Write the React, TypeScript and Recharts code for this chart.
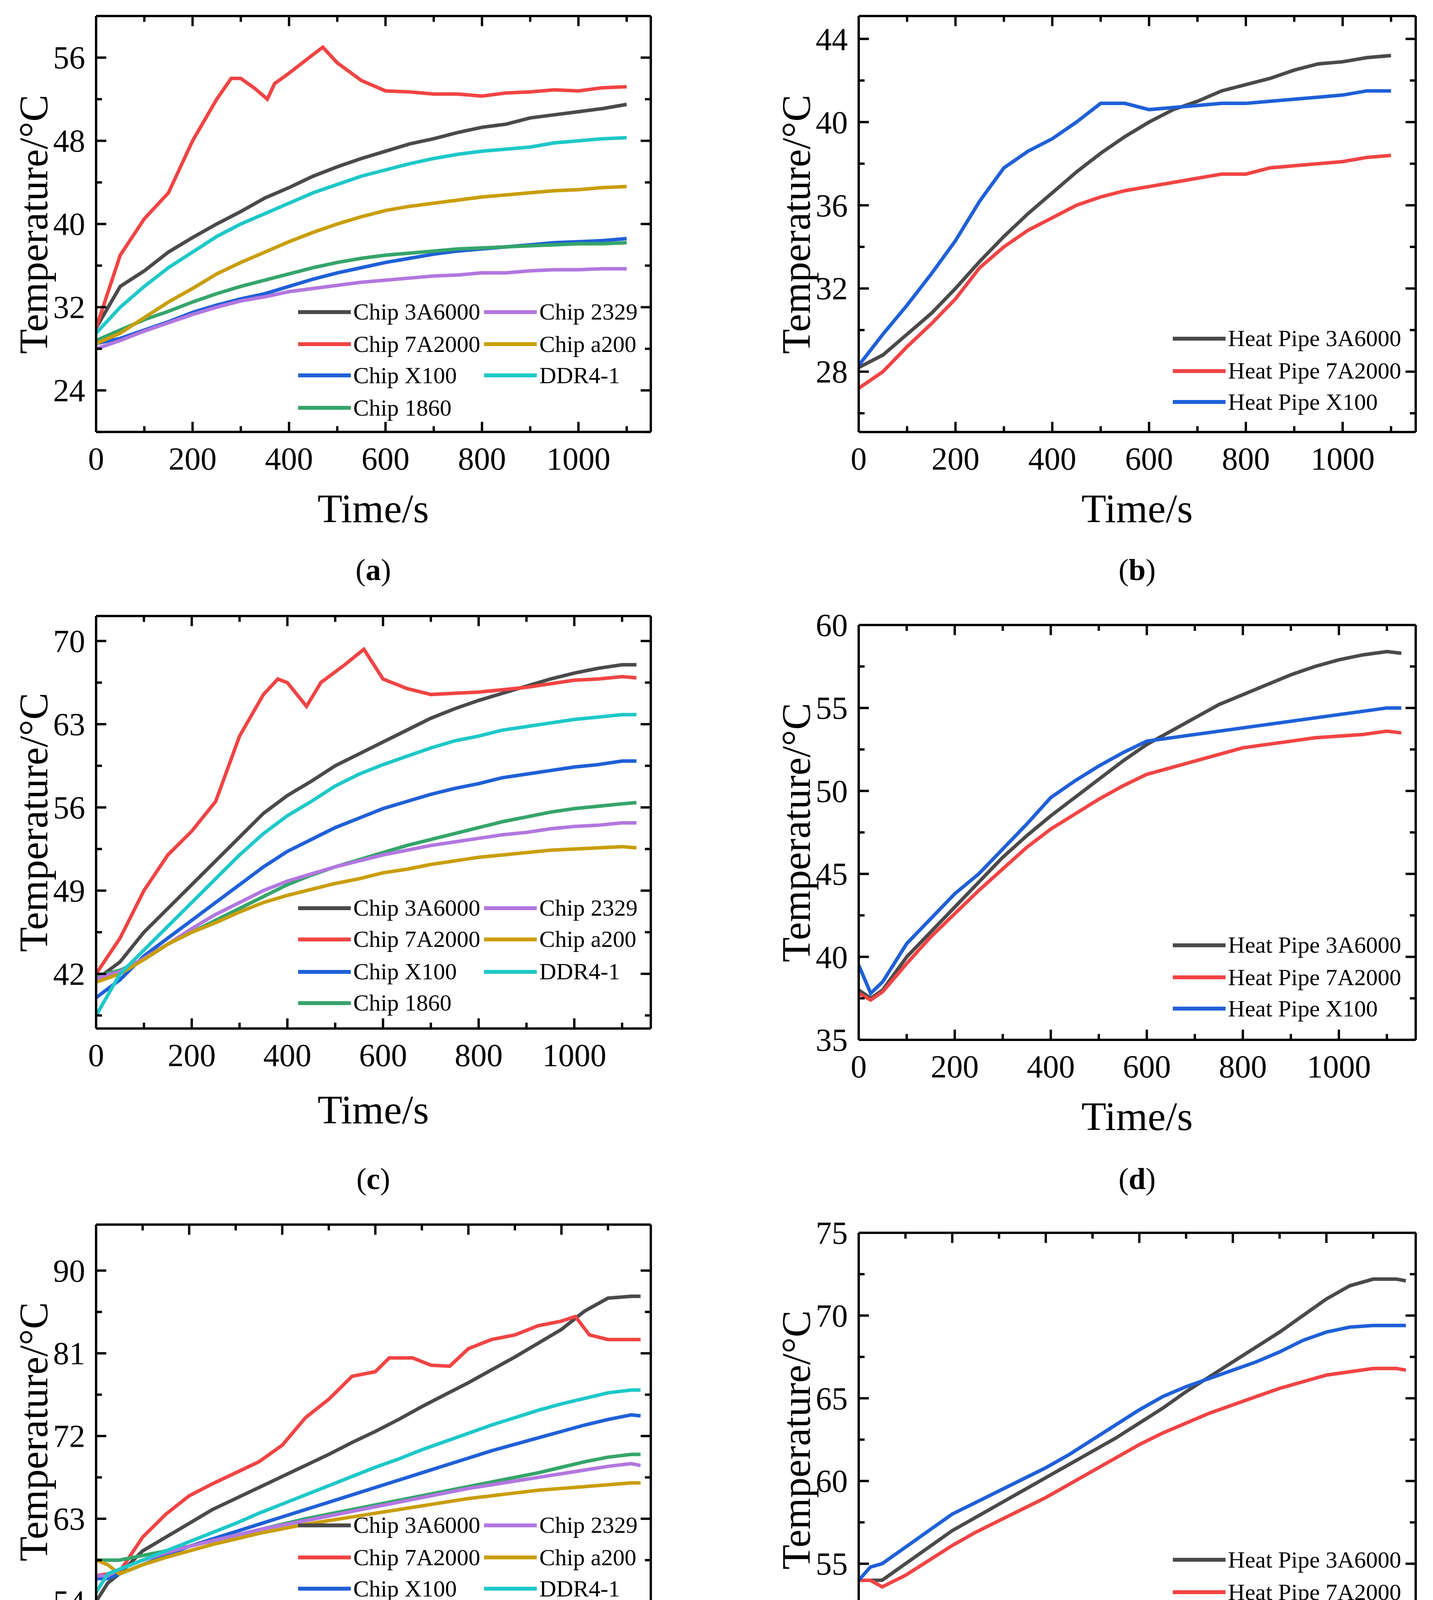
import React from "react";
import { LineChart, Line, XAxis, YAxis } from "recharts";

const FONT = "'Liberation Serif', 'DejaVu Serif', serif";
const C = { k: "#4a4a4a", r: "#f24444", b: "#1f60d8", g: "#35a56a", p: "#b277e0", y: "#c99e08", c: "#1ec8c8" };

// ---------- panel (a) ----------
const A_T = [0,50,100,150,200,250,300,350,400,450,500,550,600,650,700,750,800,850,900,950,1000,1050,1100];
const A_3A6000 = [30,34,35.5,37.3,38.7,40,41.2,42.5,43.5,44.6,45.5,46.3,47,47.7,48.2,48.8,49.3,49.6,50.2,50.5,50.8,51.1,51.5];
const A_7A2000_T = [0,50,100,150,200,250,280,300,330,355,370,400,450,470,500,550,600,650,700,750,800,850,900,950,1000,1050,1100];
const A_7A2000 = [30,37,40.5,43,48,52,54,54,53,52,53.5,54.5,56.3,57,55.5,53.8,52.8,52.7,52.5,52.5,52.3,52.6,52.7,52.9,52.8,53.1,53.2];
const A_X100 = [28.5,29,29.8,30.6,31.5,32.2,32.8,33.3,34,34.7,35.3,35.8,36.3,36.7,37.1,37.4,37.6,37.8,38,38.2,38.3,38.4,38.6];
const A_1860 = [28.8,29.8,30.8,31.6,32.5,33.3,34,34.6,35.2,35.8,36.3,36.7,37,37.2,37.4,37.6,37.7,37.8,37.9,38,38.1,38.1,38.2];
const A_2329 = [28,28.8,29.7,30.5,31.3,32,32.6,33,33.5,33.8,34.1,34.4,34.6,34.8,35,35.1,35.3,35.3,35.5,35.6,35.6,35.7,35.7];
const A_a200 = [28.5,29.5,31,32.5,33.8,35.2,36.3,37.3,38.3,39.2,40,40.7,41.3,41.7,42,42.3,42.6,42.8,43,43.2,43.3,43.5,43.6];
const A_DDR4 = [29.5,32,34,35.8,37.3,38.8,40,41,42,43,43.8,44.6,45.2,45.8,46.3,46.7,47,47.2,47.4,47.8,48,48.2,48.3];

// ---------- panel (b) ----------
const B_T = A_T;
const B_3A6000 = [28.2,28.8,29.8,30.8,32,33.3,34.5,35.6,36.6,37.6,38.5,39.3,40,40.6,41,41.5,41.8,42.1,42.5,42.8,42.9,43.1,43.2];
const B_7A2000 = [27.2,28,29.2,30.3,31.5,33,34,34.8,35.4,36,36.4,36.7,36.9,37.1,37.3,37.5,37.5,37.8,37.9,38,38.1,38.3,38.4];
const B_X100 = [28.3,29.8,31.2,32.7,34.3,36.2,37.8,38.6,39.2,40,40.9,40.9,40.6,40.7,40.8,40.9,40.9,41,41.1,41.2,41.3,41.5,41.5];

// ---------- panel (c) ----------
const C_T = [0,50,100,150,200,250,300,350,400,450,500,550,600,650,700,750,800,850,900,950,1000,1050,1100,1130];
const C_3A6000 = [41.5,43,45.5,47.5,49.5,51.5,53.5,55.5,57,58.2,59.5,60.5,61.5,62.5,63.5,64.3,65,65.6,66.2,66.8,67.3,67.7,68,68];
const C_7A2000_T = [0,50,100,150,200,250,300,350,380,400,440,470,520,560,600,650,700,750,800,850,900,950,1000,1050,1100,1130];
const C_7A2000 = [42,45,49,52,54,56.5,62,65.5,66.8,66.5,64.5,66.5,68,69.3,66.8,66,65.5,65.6,65.7,65.9,66.1,66.4,66.7,66.8,67,66.9];
const C_X100 = [40,41.5,43.5,45,46.5,48,49.5,51,52.3,53.3,54.3,55.1,55.9,56.5,57.1,57.6,58,58.5,58.8,59.1,59.4,59.6,59.9,59.9];
const C_1860 = [41.8,42.3,43.2,44.5,45.5,46.5,47.5,48.5,49.5,50.3,51,51.6,52.2,52.8,53.3,53.8,54.3,54.8,55.2,55.6,55.9,56.1,56.3,56.4];
const C_2329 = [41.6,42.2,43.3,44.5,45.8,47,48,49,49.8,50.4,51,51.5,52,52.4,52.8,53.1,53.4,53.7,53.9,54.2,54.4,54.5,54.7,54.7];
const C_a200 = [41.3,42,43.2,44.5,45.5,46.3,47.2,48,48.6,49.1,49.6,50,50.5,50.8,51.2,51.5,51.8,52,52.2,52.4,52.5,52.6,52.7,52.6];
const C_DDR4 = [38.5,42,44,46,48,50,52,53.8,55.3,56.5,57.8,58.8,59.6,60.3,61,61.6,62,62.5,62.8,63.1,63.4,63.6,63.8,63.8];

// ---------- panel (d) ----------
const D_T = [0,25,50,100,150,200,250,300,350,400,450,500,550,600,650,700,750,800,850,900,950,1000,1050,1100,1130];
const D_3A6000 = [38,37.5,38,40,41.5,43,44.5,46,47.3,48.5,49.6,50.7,51.8,52.8,53.6,54.4,55.2,55.8,56.4,57,57.5,57.9,58.2,58.4,58.3];
const D_7A2000 = [37.8,37.4,37.9,39.6,41.2,42.6,44,45.3,46.6,47.7,48.6,49.5,50.3,51,51.4,51.8,52.2,52.6,52.8,53,53.2,53.3,53.4,53.6,53.5];
const D_X100 = [39.5,37.8,38.5,40.8,42.3,43.8,45,46.5,48,49.6,50.6,51.5,52.3,53,53.2,53.4,53.6,53.8,54,54.2,54.4,54.6,54.8,55,55];

// ---------- panel (e) ----------
const E_T = [0,25,50,100,150,200,250,300,350,400,450,500,550,600,650,700,750,800,850,900,950,1000,1050,1100,1150,1170];
const E_3A6000 = [54,56,57,59.5,61,62.5,64,65.2,66.4,67.6,68.8,70,71.3,72.5,73.8,75.2,76.5,77.8,79.2,80.6,82.1,83.6,85.6,87,87.2,87.2];
const E_7A2000_T = [0,50,100,150,200,250,300,350,400,450,500,550,600,630,680,720,760,800,850,900,950,1000,1030,1060,1100,1170];
const E_7A2000 = [56.8,57.2,61,63.5,65.5,66.8,68,69.2,71,74,76,78.5,79,80.5,80.5,79.7,79.6,81.5,82.5,83,84,84.5,85,83,82.5,82.5];
const E_X100 = [56.5,56.5,57,58,59,60,60.8,61.6,62.4,63.2,64,64.8,65.6,66.4,67.2,68,68.8,69.6,70.4,71.1,71.8,72.5,73.2,73.8,74.3,74.2];
const E_1860 = [58.5,58.5,58.5,59,59.5,60,60.6,61.2,61.8,62.4,63,63.5,64,64.5,65,65.5,66,66.5,67,67.5,68,68.6,69.2,69.7,70,70];
const E_2329 = [56.8,56.8,57.5,58.5,59.3,60,60.6,61.2,61.8,62.3,62.8,63.3,63.8,64.3,64.8,65.3,65.8,66.3,66.7,67.1,67.5,67.9,68.3,68.7,69,68.8];
const E_a200 = [58.5,58,57,58,58.8,59.5,60.2,60.8,61.4,61.9,62.4,62.8,63.2,63.6,64,64.4,64.8,65.2,65.5,65.8,66.1,66.3,66.5,66.7,66.9,66.9];
const E_DDR4 = [55,57,57.5,58.5,59.5,60.5,61.5,62.5,63.6,64.6,65.6,66.6,67.6,68.6,69.5,70.5,71.4,72.3,73.2,74,74.8,75.5,76.1,76.7,77,77];

// ---------- panel (f) ----------
const F_T = E_T;
const F_3A6000 = [54,54,54,55,56,57,57.8,58.6,59.4,60.2,61,61.8,62.6,63.5,64.4,65.4,66.3,67.2,68.1,69,70,71,71.8,72.2,72.2,72.1];
const F_7A2000 = [54,54,53.6,54.3,55.2,56.1,56.9,57.6,58.3,59,59.8,60.6,61.4,62.2,62.9,63.5,64.1,64.6,65.1,65.6,66,66.4,66.6,66.8,66.8,66.7];
const F_X100 = [54,54.8,55,56,57,58,58.7,59.4,60.1,60.8,61.6,62.5,63.4,64.3,65.1,65.7,66.2,66.7,67.2,67.8,68.5,69,69.3,69.4,69.4,69.4];

// ---------- axis ticks ----------
const X_MAJOR = [0,200,400,600,800,1000];
const X_ALL = [0,100,200,300,400,500,600,700,800,900,1000,1100];
const Y_A = [24,32,40,48,56]; const Y_A_ALL = [20,24,28,32,36,40,44,48,52,56,60];
const Y_B = [28,32,36,40,44]; const Y_B_ALL = [26,28,30,32,34,36,38,40,42,44];
const Y_C = [42,49,56,63,70]; const Y_C_ALL = [38.5,42,45.5,49,52.5,56,59.5,63,66.5,70];
const Y_D = [35,40,45,50,55,60]; const Y_D_ALL = [35,37.5,40,42.5,45,47.5,50,52.5,55,57.5,60];
const Y_E = [54,63,72,81,90]; const Y_E_ALL = [54,58.5,63,67.5,72,76.5,81,85.5,90];
const Y_F = [50,55,60,65,70,75]; const Y_F_ALL = [50,52.5,55,57.5,60,62.5,65,67.5,70,72.5,75];

type S = { name: string; color: string; t: number[]; v: number[] };
const chipSeries = (T: number[], k: number[], rT: number[], r: number[], b: number[], g: number[], p: number[], y: number[], c: number[]): S[] => [
  { name: "Chip 3A6000", color: C.k, t: T, v: k },
  { name: "Chip 7A2000", color: C.r, t: rT, v: r },
  { name: "Chip X100", color: C.b, t: T, v: b },
  { name: "Chip 1860", color: C.g, t: T, v: g },
  { name: "Chip 2329", color: C.p, t: T, v: p },
  { name: "Chip a200", color: C.y, t: T, v: y },
  { name: "DDR4-1", color: C.c, t: T, v: c },
];
const pipeSeries = (T: number[], k: number[], r: number[], b: number[]): S[] => [
  { name: "Heat Pipe 3A6000", color: C.k, t: T, v: k },
  { name: "Heat Pipe 7A2000", color: C.r, t: T, v: r },
  { name: "Heat Pipe X100", color: C.b, t: T, v: b },
];

const s = 2.958;
const COL1 = [83 * s, 563 * s];
const COL2 = [743 * s, 1225 * s];

const PANELS = [
  { id: "a", L: COL1[0], R: COL1[1], T: 14 * s, B: 374 * s, xMax: 1150, yDom: [20, 60], yMaj: Y_A, yAll: Y_A_ALL,
    series: chipSeries(A_T, A_3A6000, A_7A2000_T, A_7A2000, A_X100, A_1860, A_2329, A_a200, A_DDR4),
    legRows: [270, 298, 325, 353], twoCol: true, titleY: 442, labY: 495 },
  { id: "b", L: COL2[0], R: COL2[1], T: 14 * s, B: 374 * s, xMax: 1151, yDom: [25.1, 45.1], yMaj: Y_B, yAll: Y_B_ALL,
    series: pipeSeries(B_T, B_3A6000, B_7A2000, B_X100), legRows: [293, 321, 348], twoCol: false, titleY: 442, labY: 495 },
  { id: "c", L: COL1[0], R: COL1[1], T: 533 * s, B: 890 * s, xMax: 1160, yDom: [37.4, 72.1], yMaj: Y_C, yAll: Y_C_ALL,
    series: chipSeries(C_T, C_3A6000, C_7A2000_T, C_7A2000, C_X100, C_1860, C_2329, C_a200, C_DDR4),
    legRows: [786, 813, 841, 868], twoCol: true, titleY: 962, labY: 1022 },
  { id: "d", L: COL2[0], R: COL2[1], T: 541 * s, B: 900 * s, xMax: 1160, yDom: [35, 60], yMaj: Y_D, yAll: Y_D_ALL,
    series: pipeSeries(D_T, D_3A6000, D_7A2000, D_X100), legRows: [818, 846, 873], twoCol: false, titleY: 968, labY: 1022 },
  { id: "e", L: COL1[0], R: COL1[1], T: 1060 * s, B: 1418 * s, xMax: 1192, yDom: [50, 95], yMaj: Y_E, yAll: Y_E_ALL,
    series: chipSeries(E_T, E_3A6000, E_7A2000_T, E_7A2000, E_X100, E_1860, E_2329, E_a200, E_DDR4),
    legRows: [1320, 1348, 1375, 1403], twoCol: true, titleY: 1487, labY: 1548 },
  { id: "f", L: COL2[0], R: COL2[1], T: 1067 * s, B: 1425 * s, xMax: 1191, yDom: [50, 75], yMaj: Y_F, yAll: Y_F_ALL,
    series: pipeSeries(F_T, F_3A6000, F_7A2000, F_X100), legRows: [1350, 1378, 1405], twoCol: false, titleY: 1493, labY: 1548 },
];

const isMajor = (v: number, maj: number[]) => maj.some((m) => Math.abs(m - v) < 1e-6);
const TICK_FS = 82;
const MAJ = 26, MIN = 15;

const makeTick = (orient: string, maj: number[]) => (props: any) => {
  const { x, y, payload } = props;
  const v = payload.value;
  const major = isMajor(v, maj);
  const len = major ? MAJ : MIN;
  let line;
  if (orient === "bottom") line = <line x1={x} x2={x} y1={y} y2={y - len} stroke="#000" strokeWidth={6} />;
  else if (orient === "top") line = <line x1={x} x2={x} y1={y} y2={y + len} stroke="#000" strokeWidth={6} />;
  else if (orient === "left") line = <line x1={x} x2={x + len} y1={y} y2={y} stroke="#000" strokeWidth={6} />;
  else line = <line x1={x} x2={x - len} y1={y} y2={y} stroke="#000" strokeWidth={6} />;
  let label = null;
  if (major && orient === "bottom")
    label = <text x={x} y={y + 96} textAnchor="middle" fontSize={TICK_FS} fontFamily={FONT} fill="#000">{v}</text>;
  if (major && orient === "left")
    label = <text x={x - 28} y={y + 28} textAnchor="end" fontSize={TICK_FS} fontFamily={FONT} fill="#000">{v}</text>;
  return <g>{line}{label}</g>;
};

const ML = 320, MT = 60, MR = 60, MB = 200;
const AX_L = 250, AX_T = 10, AX_R = 10, AX_B = 150;

function Panel({ p }: { p: any }) {
  const w = p.R - p.L, h = p.B - p.T;
  const axisProps = { axisLine: { stroke: "#000", strokeWidth: 6 }, tickLine: false, tickSize: 0, tickMargin: 0, interval: 0 as const };
  return (
    <div style={{ position: "absolute", left: p.L - ML, top: p.T - MT }}>
      <LineChart width={w + ML + MR} height={h + MT + MB}
        margin={{ left: ML - AX_L, top: MT - AX_T, right: MR - AX_R, bottom: MB - AX_B }}>
        <XAxis xAxisId="b" type="number" dataKey="t" domain={[0, p.xMax]} ticks={X_ALL} height={AX_B} orientation="bottom"
          allowDataOverflow {...axisProps} tick={makeTick("bottom", X_MAJOR)} />
        <XAxis xAxisId="t" type="number" dataKey="t" domain={[0, p.xMax]} ticks={X_ALL} height={AX_T} orientation="top"
          allowDataOverflow {...axisProps} tick={makeTick("top", X_MAJOR)} />
        <YAxis yAxisId="l" type="number" domain={p.yDom} ticks={p.yAll} width={AX_L} orientation="left"
          allowDataOverflow {...axisProps} tick={makeTick("left", p.yMaj)} />
        <YAxis yAxisId="r" type="number" domain={p.yDom} ticks={p.yAll} width={AX_R} orientation="right"
          allowDataOverflow {...axisProps} tick={makeTick("right", p.yMaj)} />
        {p.series.map((se: S) => (
          <Line key={se.name} xAxisId="b" yAxisId="l" type="linear" data={se.t.map((t, i) => ({ t, v: se.v[i] }))}
            dataKey="v" stroke={se.color} strokeWidth={9} dot={false} isAnimationActive={false} />
        ))}
      </LineChart>
    </div>
  );
}

function Legend({ p }: { p: any }) {
  const items: { se: S; x: number; y: number }[] = [];
  if (p.twoCol) {
    p.series.forEach((se: S, i: number) => {
      const col = i < 4 ? 0 : 1;
      const row = i < 4 ? i : i - 4;
      items.push({ se, x: col === 0 ? 258 * s : 419 * s, y: p.legRows[row] * s });
    });
  } else {
    p.series.forEach((se: S, i: number) => items.push({ se, x: 1015 * s, y: p.legRows[i] * s }));
  }
  return (
    <>
      {items.map(({ se, x, y }) => (
        <div key={se.name} style={{ position: "absolute", left: x, top: y - 40, height: 80, display: "flex", alignItems: "center", whiteSpace: "nowrap" }}>
          <div style={{ width: 135, height: 10, background: se.color, marginRight: 6 }} />
          <span style={{ fontFamily: FONT, fontSize: 60, color: "#000" }}>{se.name}</span>
        </div>
      ))}
    </>
  );
}

export default function App() {
  return (
    <div style={{ position: "absolute", left: 0, top: 0, width: 3668, height: 4643, background: "#fff", overflow: "hidden" }}>
      {PANELS.map((p) => (
        <React.Fragment key={p.id}>
          <Panel p={p} />
          <Legend p={p} />
          <div style={{ position: "absolute", left: (p.L + p.R) / 2 - 400, width: 800, top: p.titleY * s - 65, textAlign: "center",
            fontFamily: FONT, fontSize: 104, color: "#000" }}>Time/s</div>
          <div style={{ position: "absolute", left: (p.L - 160) - 500, top: (p.T + p.B) / 2 - 60, width: 1000, height: 120, textAlign: "center",
            fontFamily: FONT, fontSize: 104, lineHeight: "120px", color: "#000", transform: "rotate(-90deg)" }}>Temperature/°C</div>
          <div style={{ position: "absolute", left: (p.L + p.R) / 2 - 200, width: 400, top: p.labY * s - 50, textAlign: "center",
            fontFamily: FONT, fontSize: 78, color: "#000" }}>(<b>{p.id}</b>)</div>
        </React.Fragment>
      ))}
    </div>
  );
}
